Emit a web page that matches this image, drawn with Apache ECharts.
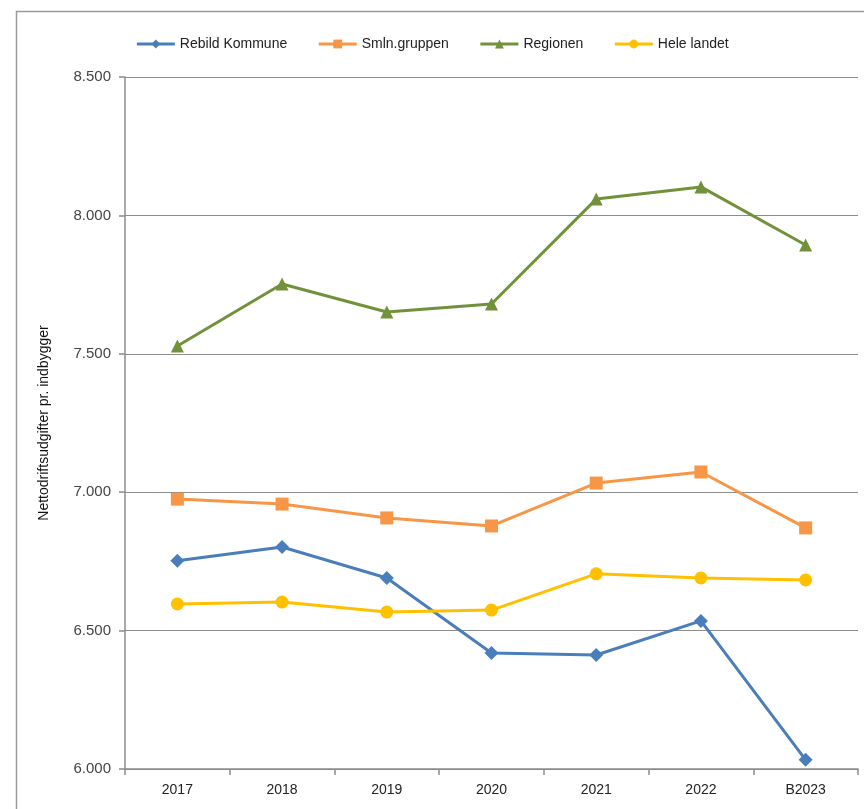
<!DOCTYPE html>
<html><head><meta charset="utf-8">
<script src="https://cdn.jsdelivr.net/npm/echarts@6/dist/echarts.min.js"></script>
<style>html,body{margin:0;padding:0;background:#fff}#c{width:864px;height:809px}</style>
</head><body><div id="c"></div>
<script>
const categories = ['2017','2018','2019','2020','2021','2022','B2023'];
const rebild = [6752, 6802, 6690, 6419, 6412, 6535, 6033];
const smln = [6975, 6957, 6907, 6878, 7033, 7073, 6871];
const regionen = [7528, 7752, 7651, 7680, 8059, 8103, 7893];
const heleLandet = [6596, 6603, 6567, 6574, 6705, 6690, 6683];
const yTicks = {min: 6000, max: 8500, interval: 500};

const chart = echarts.init(document.getElementById('c'));
const font = 'Liberation Sans';
function ser(name, data, color, symbol, size){
  return {name, type:'line', data, symbol, symbolSize:size, showSymbol:true,
    lineStyle:{color, width:3}, itemStyle:{color}, animation:false};
}
chart.setOption({
  animation:false,
  graphic:[{type:'rect', shape:{x:16.5,y:11.5,width:900,height:900}, style:{fill:'none', stroke:'#9a9a9a', lineWidth:1.5}}],
  legend:{top:32, left:'center', itemGap:30, itemWidth:38, itemHeight:11,
    lineStyle:{width:3},
    textStyle:{fontFamily:font, fontSize:14, color:'#222'},
    data:['Rebild Kommune','Smln.gruppen','Regionen','Hele landet']},
  grid:{left:125, right:6, top:77, bottom:40},
  xAxis:{type:'category', data:categories, boundaryGap:true,
    axisLine:{lineStyle:{color:'#8c8c8c', width:1.5}},
    axisTick:{show:true, length:6, lineStyle:{color:'#8c8c8c', width:1.5}},
    axisLabel:{fontFamily:font, fontSize:14, color:'#222', margin:14}},
  yAxis:{type:'value', min:yTicks.min, max:yTicks.max, interval:yTicks.interval,
    name:'Nettodriftsudgifter pr. indbygger', nameLocation:'middle', nameGap:74, nameRotate:90,
    nameTextStyle:{fontFamily:font, fontSize:14, color:'#111'},
    axisLine:{show:true, lineStyle:{color:'#8c8c8c', width:1.5}},
    axisTick:{show:true, length:6, lineStyle:{color:'#8c8c8c', width:1.5}},
    splitLine:{lineStyle:{color:'#8c8c8c', width:1.2}},
    axisLabel:{fontFamily:font, fontSize:15, color:'#444', margin:14,
      formatter:v=>String(v).replace(/\B(?=(\d{3})+(?!\d))/g,'.')}},
  series:[
    ser('Rebild Kommune', rebild, '#4a7ebb', 'diamond', 14),
    ser('Smln.gruppen', smln, '#f79646', 'rect', 13),
    ser('Regionen', regionen, '#71923a', 'triangle', 13),
    ser('Hele landet', heleLandet, '#ffc000', 'circle', 13)
  ]
});
</script></body></html>
